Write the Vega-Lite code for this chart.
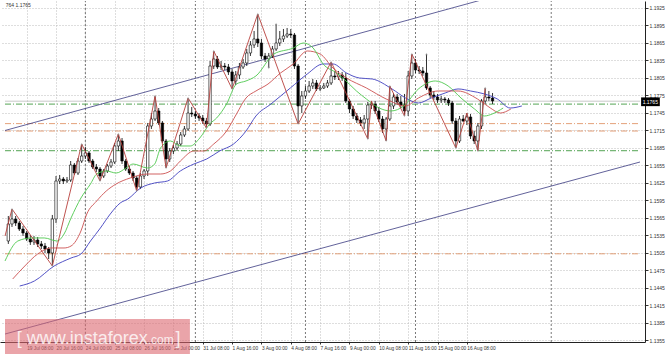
{
  "$schema": "https://vega.github.io/schema/vega-lite/v6.json",
  "width": 645,
  "height": 341,
  "padding": 0,
  "autosize": {"type": "pad"},
  "background": "white",
  "config": {
    "view": {"stroke": null},
    "font": "Liberation Sans",
    "axis": {
      "labelFontSize": 5, "labelColor": "#333333", "labelPadding": 1,
      "tickColor": "#333333", "domainColor": "#222222", "domainWidth": 1,
      "grid": true, "gridColor": "#bcbcbc", "gridDash": [1, 2], "gridWidth": 1,
      "labelFlush": false, "labelOverlap": false, "labelBound": false
    }
  },
  "datasets": {
    "candles": [
      {"i":3,"o":1.1525,"h":1.15679,"l":1.15199,"c":1.15542},
      {"i":4,"o":1.15542,"h":1.15799,"l":1.15491,"c":1.15628},
      {"i":5,"o":1.15628,"h":1.15679,"l":1.15508,"c":1.15559},
      {"i":6,"o":1.15559,"h":1.15594,"l":1.15422,"c":1.15456},
      {"i":7,"o":1.15456,"h":1.15508,"l":1.15336,"c":1.15387},
      {"i":8,"o":1.15387,"h":1.15422,"l":1.1525,"c":1.15284},
      {"i":9,"o":1.15284,"h":1.15353,"l":1.15182,"c":1.15233},
      {"i":10,"o":1.15233,"h":1.15336,"l":1.15182,"c":1.15267},
      {"i":11,"o":1.15267,"h":1.15319,"l":1.15147,"c":1.15199},
      {"i":12,"o":1.15199,"h":1.1525,"l":1.15113,"c":1.15164},
      {"i":13,"o":1.15164,"h":1.15216,"l":1.15044,"c":1.15113},
      {"i":14,"o":1.15113,"h":1.15147,"l":1.14941,"c":1.15044},
      {"i":15,"o":1.15044,"h":1.15697,"l":1.14821,"c":1.15628},
      {"i":16,"o":1.15628,"h":1.16366,"l":1.15559,"c":1.1628},
      {"i":17,"o":1.1628,"h":1.16383,"l":1.16228,"c":1.16314},
      {"i":18,"o":1.16314,"h":1.16349,"l":1.16228,"c":1.1628},
      {"i":19,"o":1.1628,"h":1.16349,"l":1.16246,"c":1.16297},
      {"i":20,"o":1.16297,"h":1.16623,"l":1.16263,"c":1.16555},
      {"i":21,"o":1.16555,"h":1.16589,"l":1.16383,"c":1.16417},
      {"i":22,"o":1.16417,"h":1.16675,"l":1.16383,"c":1.16623},
      {"i":23,"o":1.16623,"h":1.16915,"l":1.16589,"c":1.16709},
      {"i":24,"o":1.16709,"h":1.16864,"l":1.16658,"c":1.16761},
      {"i":25,"o":1.16761,"h":1.16795,"l":1.16589,"c":1.16623},
      {"i":26,"o":1.16623,"h":1.16658,"l":1.16486,"c":1.1652},
      {"i":27,"o":1.1652,"h":1.16572,"l":1.16435,"c":1.16486},
      {"i":28,"o":1.16486,"h":1.1652,"l":1.1628,"c":1.16366},
      {"i":29,"o":1.16366,"h":1.16486,"l":1.16331,"c":1.16452},
      {"i":30,"o":1.16452,"h":1.16572,"l":1.16417,"c":1.16538},
      {"i":31,"o":1.16538,"h":1.16658,"l":1.16503,"c":1.16606},
      {"i":32,"o":1.16606,"h":1.16932,"l":1.16572,"c":1.16881},
      {"i":33,"o":1.16881,"h":1.17087,"l":1.16795,"c":1.16967},
      {"i":34,"o":1.16967,"h":1.17018,"l":1.16572,"c":1.16623},
      {"i":35,"o":1.16623,"h":1.16658,"l":1.16452,"c":1.16486},
      {"i":36,"o":1.16486,"h":1.16538,"l":1.16383,"c":1.16417},
      {"i":37,"o":1.16417,"h":1.16452,"l":1.1628,"c":1.16331},
      {"i":38,"o":1.16331,"h":1.16366,"l":1.16108,"c":1.16177},
      {"i":39,"o":1.16177,"h":1.16417,"l":1.16142,"c":1.16366},
      {"i":40,"o":1.16366,"h":1.16486,"l":1.16314,"c":1.16452},
      {"i":41,"o":1.16452,"h":1.17276,"l":1.16366,"c":1.17224},
      {"i":42,"o":1.17224,"h":1.17447,"l":1.17173,"c":1.17344},
      {"i":43,"o":1.17344,"h":1.1774,"l":1.1731,"c":1.17482},
      {"i":44,"o":1.17482,"h":1.17533,"l":1.17241,"c":1.17276},
      {"i":45,"o":1.17276,"h":1.1731,"l":1.16932,"c":1.16967},
      {"i":46,"o":1.16967,"h":1.17001,"l":1.16503,"c":1.16658},
      {"i":47,"o":1.16658,"h":1.16846,"l":1.16606,"c":1.16795},
      {"i":48,"o":1.16795,"h":1.16898,"l":1.16743,"c":1.16846},
      {"i":49,"o":1.16846,"h":1.16967,"l":1.16795,"c":1.16915},
      {"i":50,"o":1.16915,"h":1.17121,"l":1.16881,"c":1.1707},
      {"i":51,"o":1.1707,"h":1.17224,"l":1.17035,"c":1.17173},
      {"i":52,"o":1.17173,"h":1.17705,"l":1.17138,"c":1.17447},
      {"i":53,"o":1.17447,"h":1.17551,"l":1.17379,"c":1.1743},
      {"i":54,"o":1.1743,"h":1.17482,"l":1.17344,"c":1.17396},
      {"i":55,"o":1.17396,"h":1.17447,"l":1.1731,"c":1.17362},
      {"i":56,"o":1.17362,"h":1.17413,"l":1.17259,"c":1.1731},
      {"i":57,"o":1.1731,"h":1.17362,"l":1.1719,"c":1.17259},
      {"i":58,"o":1.17259,"h":1.1834,"l":1.17224,"c":1.18254},
      {"i":59,"o":1.18254,"h":1.18512,"l":1.18203,"c":1.18375},
      {"i":60,"o":1.18375,"h":1.18426,"l":1.18203,"c":1.18237},
      {"i":61,"o":1.18237,"h":1.1834,"l":1.18186,"c":1.18254},
      {"i":62,"o":1.18254,"h":1.18306,"l":1.18186,"c":1.18237},
      {"i":63,"o":1.18237,"h":1.18289,"l":1.181,"c":1.18152},
      {"i":64,"o":1.18152,"h":1.18203,"l":1.1786,"c":1.17997},
      {"i":65,"o":1.17997,"h":1.18169,"l":1.17928,"c":1.181},
      {"i":66,"o":1.181,"h":1.18306,"l":1.18031,"c":1.18237},
      {"i":67,"o":1.18237,"h":1.18375,"l":1.18203,"c":1.18306},
      {"i":68,"o":1.18306,"h":1.18546,"l":1.18254,"c":1.18478},
      {"i":69,"o":1.18478,"h":1.18683,"l":1.18426,"c":1.18615},
      {"i":70,"o":1.18615,"h":1.18855,"l":1.18563,"c":1.18718},
      {"i":71,"o":1.18718,"h":1.19147,"l":1.1858,"c":1.18649},
      {"i":72,"o":1.18649,"h":1.18718,"l":1.18375,"c":1.18426},
      {"i":73,"o":1.18426,"h":1.18478,"l":1.18323,"c":1.18375},
      {"i":74,"o":1.18375,"h":1.18478,"l":1.1822,"c":1.18426},
      {"i":75,"o":1.18426,"h":1.18598,"l":1.18392,"c":1.18546},
      {"i":76,"o":1.18546,"h":1.18975,"l":1.18512,"c":1.18649},
      {"i":77,"o":1.18649,"h":1.18855,"l":1.18598,"c":1.18718},
      {"i":78,"o":1.18718,"h":1.1889,"l":1.18666,"c":1.18769},
      {"i":79,"o":1.18769,"h":1.18907,"l":1.18735,"c":1.18804},
      {"i":80,"o":1.18804,"h":1.1889,"l":1.18735,"c":1.18787},
      {"i":81,"o":1.18787,"h":1.18821,"l":1.18203,"c":1.18254},
      {"i":82,"o":1.18254,"h":1.18289,"l":1.17259,"c":1.17568},
      {"i":83,"o":1.17568,"h":1.17825,"l":1.17447,"c":1.1774},
      {"i":84,"o":1.1774,"h":1.17911,"l":1.17688,"c":1.17825},
      {"i":85,"o":1.17825,"h":1.17997,"l":1.17791,"c":1.17911},
      {"i":86,"o":1.17911,"h":1.18031,"l":1.1786,"c":1.17963},
      {"i":87,"o":1.17963,"h":1.18014,"l":1.17825,"c":1.1786},
      {"i":88,"o":1.1786,"h":1.17928,"l":1.17825,"c":1.17877},
      {"i":89,"o":1.17877,"h":1.17963,"l":1.1786,"c":1.17911},
      {"i":90,"o":1.17911,"h":1.18014,"l":1.17877,"c":1.17963},
      {"i":91,"o":1.17963,"h":1.18323,"l":1.17928,"c":1.18083},
      {"i":92,"o":1.18083,"h":1.18169,"l":1.18014,"c":1.18066},
      {"i":93,"o":1.18066,"h":1.18169,"l":1.18014,"c":1.181},
      {"i":94,"o":1.181,"h":1.18152,"l":1.17997,"c":1.18048},
      {"i":95,"o":1.18048,"h":1.18134,"l":1.17619,"c":1.17654},
      {"i":96,"o":1.17654,"h":1.17688,"l":1.17447,"c":1.17516},
      {"i":97,"o":1.17516,"h":1.17568,"l":1.17344,"c":1.17396},
      {"i":98,"o":1.17396,"h":1.17447,"l":1.17276,"c":1.17327},
      {"i":99,"o":1.17327,"h":1.17379,"l":1.17224,"c":1.17276},
      {"i":100,"o":1.17276,"h":1.17413,"l":1.17173,"c":1.17344},
      {"i":101,"o":1.17344,"h":1.17636,"l":1.17001,"c":1.17585},
      {"i":102,"o":1.17585,"h":1.17654,"l":1.17516,"c":1.17602},
      {"i":103,"o":1.17602,"h":1.17654,"l":1.1743,"c":1.17482},
      {"i":104,"o":1.17482,"h":1.17551,"l":1.17293,"c":1.17344},
      {"i":105,"o":1.17344,"h":1.17396,"l":1.17104,"c":1.17173},
      {"i":106,"o":1.17173,"h":1.17379,"l":1.16967,"c":1.17344},
      {"i":107,"o":1.17344,"h":1.17911,"l":1.1731,"c":1.17568},
      {"i":108,"o":1.17568,"h":1.17791,"l":1.17516,"c":1.17722},
      {"i":109,"o":1.17722,"h":1.17774,"l":1.17585,"c":1.17636},
      {"i":110,"o":1.17636,"h":1.1774,"l":1.17533,"c":1.17585},
      {"i":111,"o":1.17585,"h":1.17774,"l":1.17396,"c":1.17482},
      {"i":112,"o":1.17482,"h":1.18169,"l":1.17396,"c":1.18083},
      {"i":113,"o":1.18083,"h":1.1846,"l":1.18031,"c":1.18306},
      {"i":114,"o":1.18306,"h":1.18375,"l":1.18134,"c":1.18186},
      {"i":115,"o":1.18186,"h":1.18254,"l":1.18117,"c":1.18169},
      {"i":116,"o":1.18169,"h":1.18237,"l":1.18083,"c":1.18134},
      {"i":117,"o":1.18134,"h":1.1846,"l":1.17843,"c":1.17877},
      {"i":118,"o":1.17877,"h":1.17911,"l":1.17705,"c":1.17757},
      {"i":119,"o":1.17757,"h":1.17825,"l":1.17671,"c":1.17722},
      {"i":120,"o":1.17722,"h":1.17774,"l":1.17619,"c":1.17671},
      {"i":121,"o":1.17671,"h":1.1774,"l":1.17619,"c":1.17688},
      {"i":122,"o":1.17688,"h":1.17722,"l":1.17619,"c":1.17671},
      {"i":123,"o":1.17671,"h":1.17705,"l":1.17568,"c":1.17619},
      {"i":124,"o":1.17619,"h":1.17654,"l":1.17259,"c":1.1731},
      {"i":125,"o":1.1731,"h":1.17362,"l":1.16846,"c":1.16967},
      {"i":126,"o":1.16967,"h":1.17396,"l":1.16932,"c":1.17344},
      {"i":127,"o":1.17344,"h":1.17413,"l":1.17293,"c":1.1731},
      {"i":128,"o":1.1731,"h":1.17447,"l":1.17241,"c":1.17379},
      {"i":129,"o":1.17379,"h":1.1743,"l":1.17001,"c":1.17052},
      {"i":130,"o":1.17052,"h":1.17138,"l":1.16915,"c":1.16967},
      {"i":131,"o":1.16967,"h":1.17276,"l":1.16795,"c":1.17224},
      {"i":132,"o":1.17224,"h":1.17688,"l":1.17173,"c":1.17654},
      {"i":133,"o":1.17654,"h":1.17877,"l":1.17602,"c":1.17722},
      {"i":134,"o":1.17722,"h":1.17825,"l":1.17654,"c":1.17705},
      {"i":135,"o":1.17705,"h":1.17791,"l":1.17602,"c":1.17654}
    ],
    "jaw": [
      {"i":6.1,"p":1.14477},{"i":10.1,"p":1.14563},{"i":15.5,"p":1.14821},{"i":20.1,"p":1.14958},
      {"i":22.8,"p":1.15027},{"i":25.4,"p":1.1525},{"i":28.1,"p":1.15473},{"i":30.8,"p":1.15714},
      {"i":33.5,"p":1.15902},{"i":35.6,"p":1.15971},{"i":39.1,"p":1.1616},{"i":42.9,"p":1.16246},
      {"i":46.4,"p":1.1628},{"i":49.9,"p":1.16452},{"i":53.6,"p":1.16572},{"i":57.1,"p":1.16658},
      {"i":60.6,"p":1.16795},{"i":64.4,"p":1.16915},{"i":67.8,"p":1.17138},{"i":70.5,"p":1.17396},
      {"i":74.6,"p":1.17602},{"i":79.9,"p":1.17877},{"i":84.5,"p":1.18117},{"i":88.8,"p":1.18289},
      {"i":91.5,"p":1.18289},{"i":95.2,"p":1.18134},{"i":98.7,"p":1.18048},{"i":102.2,"p":1.18031},
      {"i":107.6,"p":1.1786},{"i":111.3,"p":1.17705},{"i":114.8,"p":1.17619},{"i":118.3,"p":1.17705},
      {"i":122.1,"p":1.17791},{"i":125.6,"p":1.1786},{"i":129.0,"p":1.17825},{"i":132.8,"p":1.17774},
      {"i":136.3,"p":1.17688},{"i":139.8,"p":1.17533},{"i":143.0,"p":1.17568}
    ],
    "teeth": [
      {"i":4.2,"p":1.14598},{"i":7.5,"p":1.14821},{"i":11.0,"p":1.15027},{"i":14.7,"p":1.1513},
      {"i":18.2,"p":1.1513},{"i":20.1,"p":1.15164},{"i":22.8,"p":1.15422},{"i":24.4,"p":1.15714},
      {"i":27.1,"p":1.15937},{"i":29.7,"p":1.16108},{"i":32.4,"p":1.16229},{"i":36.2,"p":1.16331},
      {"i":41.0,"p":1.164},{"i":44.5,"p":1.164},{"i":47.2,"p":1.16452},{"i":49.9,"p":1.16623},
      {"i":53.6,"p":1.16795},{"i":56.3,"p":1.16795},{"i":59.0,"p":1.16915},{"i":62.5,"p":1.17138},
      {"i":65.2,"p":1.1743},{"i":67.8,"p":1.17705},{"i":70.5,"p":1.17825},{"i":73.8,"p":1.17945},
      {"i":77.2,"p":1.18134},{"i":80.7,"p":1.18289},{"i":84.5,"p":1.18512},{"i":88.0,"p":1.1846},
      {"i":91.5,"p":1.1822},{"i":95.2,"p":1.18048},{"i":100.6,"p":1.17877},{"i":106.0,"p":1.17688},
      {"i":111.3,"p":1.17568},{"i":114.8,"p":1.17705},{"i":120.2,"p":1.17825},{"i":125.6,"p":1.17825},
      {"i":130.9,"p":1.17688},{"i":134.4,"p":1.17533},{"i":137.1,"p":1.17447},{"i":140.0,"p":1.17516}
    ],
    "lips": [
      {"i":2.1,"p":1.14907},{"i":5.6,"p":1.1525},{"i":9.3,"p":1.15302},{"i":12.8,"p":1.15302},
      {"i":16.3,"p":1.1525},{"i":18.2,"p":1.1537},{"i":20.1,"p":1.15645},{"i":22.8,"p":1.15988},
      {"i":25.4,"p":1.16229},{"i":27.1,"p":1.164},{"i":29.7,"p":1.16452},{"i":32.4,"p":1.16417},
      {"i":35.1,"p":1.16503},{"i":37.0,"p":1.16572},{"i":41.0,"p":1.16503},{"i":42.9,"p":1.16572},
      {"i":44.5,"p":1.16846},{"i":47.2,"p":1.16967},{"i":49.9,"p":1.16881},{"i":52.6,"p":1.16881},
      {"i":55.2,"p":1.17018},{"i":57.9,"p":1.17259},{"i":59.8,"p":1.17362},{"i":62.5,"p":1.17602},
      {"i":65.2,"p":1.17945},{"i":67.8,"p":1.17997},{"i":70.5,"p":1.18083},{"i":75.4,"p":1.1846},
      {"i":80.7,"p":1.18563},{"i":83.4,"p":1.18649},{"i":86.1,"p":1.18563},{"i":88.8,"p":1.18289},
      {"i":92.5,"p":1.18134},{"i":94.2,"p":1.18048},{"i":97.9,"p":1.17825},{"i":100.6,"p":1.17688},
      {"i":104.1,"p":1.17533},{"i":107.3,"p":1.17482},{"i":110.8,"p":1.17568},{"i":114.8,"p":1.1786},
      {"i":119.4,"p":1.17997},{"i":122.9,"p":1.17911},{"i":126.4,"p":1.17705},{"i":130.1,"p":1.17516},
      {"i":132.8,"p":1.17396},{"i":134.9,"p":1.1743},{"i":137.9,"p":1.17533}
    ],
    "zigzag": [
      {"i":2.1,"p":1.15336,"t":"S"},
      {"i":4,"p":1.15799,"t":"P"},{"i":15,"p":1.14821,"t":"L"},{"i":23,"p":1.16915,"t":"P"},
      {"i":28,"p":1.1628,"t":"L"},{"i":33,"p":1.17087,"t":"P"},{"i":38,"p":1.16108,"t":"L"},
      {"i":43,"p":1.1774,"t":"P"},{"i":46,"p":1.16503,"t":"L"},{"i":52,"p":1.17705,"t":"P"},
      {"i":57,"p":1.1719,"t":"L"},{"i":59,"p":1.18512,"t":"P"},{"i":64,"p":1.1786,"t":"L"},
      {"i":71,"p":1.19147,"t":"P"},{"i":82,"p":1.17259,"t":"L"},{"i":91,"p":1.18323,"t":"P"},
      {"i":101,"p":1.17001,"t":"L"},{"i":102,"p":1.17654,"t":"P"},{"i":106,"p":1.16967,"t":"L"},
      {"i":107,"p":1.17911,"t":"P"},{"i":111,"p":1.17396,"t":"L"},{"i":113,"p":1.1846,"t":"P"},
      {"i":125,"p":1.16846,"t":"L"},{"i":128,"p":1.17447,"t":"P"},{"i":131,"p":1.16795,"t":"L"},
      {"i":133,"p":1.17877,"t":"P"}
    ],
    "fractals": [
      {"i":4,"p":1.15799,"t":"P"},{"i":15,"p":1.14821,"t":"L"},{"i":23,"p":1.16915,"t":"P"},
      {"i":28,"p":1.1628,"t":"L"},{"i":33,"p":1.17087,"t":"P"},{"i":38,"p":1.16108,"t":"L"},
      {"i":43,"p":1.1774,"t":"P"},{"i":46,"p":1.16503,"t":"L"},{"i":52,"p":1.17705,"t":"P"},
      {"i":57,"p":1.1719,"t":"L"},{"i":59,"p":1.18512,"t":"P"},{"i":64,"p":1.1786,"t":"L"},
      {"i":71,"p":1.19147,"t":"P"},{"i":74,"p":1.1822,"t":"L"},{"i":76,"p":1.18975,"t":"P"},
      {"i":82,"p":1.17259,"t":"L"},{"i":91,"p":1.18323,"t":"P"},{"i":101,"p":1.17001,"t":"L"},
      {"i":106,"p":1.16967,"t":"L"},{"i":107,"p":1.17911,"t":"P"},{"i":111,"p":1.17396,"t":"L"},
      {"i":113,"p":1.1846,"t":"P"},{"i":117,"p":1.1846,"t":"P"},{"i":125,"p":1.16846,"t":"L"},
      {"i":131,"p":1.16795,"t":"L"},{"i":133,"p":1.17877,"t":"P"}
    ],
    "channel": [
      {"line":"upper","i":2.0956,"p":1.17147},{"line":"upper","i":175.2,"p":1.20134},
      {"line":"lower","i":2.0956,"p":1.13653},{"line":"lower","i":175.2,"p":1.16606}
    ],
    "levelsGreen": [{"p":1.1760},{"p":1.1680}],
    "levelsOrange": [{"p":1.17265},{"p":1.17138},{"p":1.1503}],
    "separators": [{"i":24},{"i":54},{"i":84},{"i":114},{"i":151}]
  },
  "layer": [
    {
      "data": {"name": "separators"},
      "mark": {"type": "rule", "color": "#555555", "strokeWidth": 0.8, "strokeDash": [2, 2]},
      "encoding": {
        "x": {"field": "i", "type": "quantitative", "scale": {"domain": [2.0956, 175.2], "nice": false, "zero": false},
          "axis": {"orient": "bottom", "title": null, "values": [8, 16, 24, 32, 40, 48, 56, 64, 72, 80, 88, 96, 104, 112, 120, 128], "labelExpr": "['19 Jul 08:00','20 Jul 16:00','24 Jul 00:00','25 Jul 08:00','26 Jul 16:00','28 Jul 00:00','31 Jul 08:00','1 Aug 16:00','3 Aug 00:00','4 Aug 08:00','7 Aug 16:00','9 Aug 00:00','10 Aug 08:00','11 Aug 16:00','15 Aug 00:00','16 Aug 08:00'][(datum.value - 8) / 8]", "labelAlign": "left", "labelDx": 1, "labelFontSize": 4.8, "tickSize": 2}},
        "y": {"datum": 1.13516, "type": "quantitative", "scale": {"domain": [1.13516, 1.1937], "nice": false, "zero": false},
          "axis": {"orient": "right", "title": null, "format": ".4f", "values": [1.1355, 1.1385, 1.1415, 1.1445, 1.1475, 1.1505, 1.1535, 1.1565, 1.1595, 1.1625, 1.1655, 1.1685, 1.1715, 1.1745, 1.1775, 1.1805, 1.1835, 1.1865, 1.1895, 1.1925], "tickSize": 3}},
        "y2": {"datum": 1.1937}
      }
    },
    {
      "data": {"name": "levelsGreen"},
      "mark": {"type": "rule", "color": "#3f9a3f", "strokeWidth": 0.9, "strokeDash": [6, 2, 1, 2]},
      "encoding": {
        "x": {"datum": 2.0956, "type": "quantitative", "scale": {"domain": [2.0956, 175.2], "nice": false, "zero": false},
          "axis": {"orient": "bottom", "title": null, "values": [8, 16, 24, 32, 40, 48, 56, 64, 72, 80, 88, 96, 104, 112, 120, 128], "labelExpr": "['19 Jul 08:00','20 Jul 16:00','24 Jul 00:00','25 Jul 08:00','26 Jul 16:00','28 Jul 00:00','31 Jul 08:00','1 Aug 16:00','3 Aug 00:00','4 Aug 08:00','7 Aug 16:00','9 Aug 00:00','10 Aug 08:00','11 Aug 16:00','15 Aug 00:00','16 Aug 08:00'][(datum.value - 8) / 8]", "labelAlign": "left", "labelDx": 1, "labelFontSize": 4.8, "tickSize": 2}},
        "x2": {"datum": 175.2},
        "y": {"field": "p", "type": "quantitative", "scale": {"domain": [1.13516, 1.1937], "nice": false, "zero": false},
          "axis": {"orient": "right", "title": null, "format": ".4f", "values": [1.1355, 1.1385, 1.1415, 1.1445, 1.1475, 1.1505, 1.1535, 1.1565, 1.1595, 1.1625, 1.1655, 1.1685, 1.1715, 1.1745, 1.1775, 1.1805, 1.1835, 1.1865, 1.1895, 1.1925], "tickSize": 3}}
      }
    },
    {
      "data": {"name": "levelsOrange"},
      "mark": {"type": "rule", "color": "#e0956a", "strokeWidth": 0.9, "strokeDash": [6, 2, 1, 2]},
      "encoding": {
        "x": {"datum": 2.0956, "type": "quantitative", "scale": {"domain": [2.0956, 175.2], "nice": false, "zero": false},
          "axis": {"orient": "bottom", "title": null, "values": [8, 16, 24, 32, 40, 48, 56, 64, 72, 80, 88, 96, 104, 112, 120, 128], "labelExpr": "['19 Jul 08:00','20 Jul 16:00','24 Jul 00:00','25 Jul 08:00','26 Jul 16:00','28 Jul 00:00','31 Jul 08:00','1 Aug 16:00','3 Aug 00:00','4 Aug 08:00','7 Aug 16:00','9 Aug 00:00','10 Aug 08:00','11 Aug 16:00','15 Aug 00:00','16 Aug 08:00'][(datum.value - 8) / 8]", "labelAlign": "left", "labelDx": 1, "labelFontSize": 4.8, "tickSize": 2}},
        "x2": {"datum": 175.2},
        "y": {"field": "p", "type": "quantitative", "scale": {"domain": [1.13516, 1.1937], "nice": false, "zero": false},
          "axis": {"orient": "right", "title": null, "format": ".4f", "values": [1.1355, 1.1385, 1.1415, 1.1445, 1.1475, 1.1505, 1.1535, 1.1565, 1.1595, 1.1625, 1.1655, 1.1685, 1.1715, 1.1745, 1.1775, 1.1805, 1.1835, 1.1865, 1.1895, 1.1925], "tickSize": 3}}
      }
    },
    {
      "data": {"values": [{"p": 1.1765}]},
      "mark": {"type": "rule", "color": "#bdbdbd", "strokeWidth": 0.8},
      "encoding": {
        "x": {"datum": 2.0956, "type": "quantitative", "scale": {"domain": [2.0956, 175.2], "nice": false, "zero": false},
          "axis": {"orient": "bottom", "title": null, "values": [8, 16, 24, 32, 40, 48, 56, 64, 72, 80, 88, 96, 104, 112, 120, 128], "labelExpr": "['19 Jul 08:00','20 Jul 16:00','24 Jul 00:00','25 Jul 08:00','26 Jul 16:00','28 Jul 00:00','31 Jul 08:00','1 Aug 16:00','3 Aug 00:00','4 Aug 08:00','7 Aug 16:00','9 Aug 00:00','10 Aug 08:00','11 Aug 16:00','15 Aug 00:00','16 Aug 08:00'][(datum.value - 8) / 8]", "labelAlign": "left", "labelDx": 1, "labelFontSize": 4.8, "tickSize": 2}},
        "x2": {"datum": 175.2},
        "y": {"field": "p", "type": "quantitative", "scale": {"domain": [1.13516, 1.1937], "nice": false, "zero": false},
          "axis": {"orient": "right", "title": null, "format": ".4f", "values": [1.1355, 1.1385, 1.1415, 1.1445, 1.1475, 1.1505, 1.1535, 1.1565, 1.1595, 1.1625, 1.1655, 1.1685, 1.1715, 1.1745, 1.1775, 1.1805, 1.1835, 1.1865, 1.1895, 1.1925], "tickSize": 3}}
      }
    },
    {
      "data": {"name": "channel"},
      "mark": {"type": "line", "color": "#3a3a80", "strokeWidth": 0.8, "clip": true},
      "encoding": {
        "x": {"field": "i", "type": "quantitative", "scale": {"domain": [2.0956, 175.2], "nice": false, "zero": false},
          "axis": {"orient": "bottom", "title": null, "values": [8, 16, 24, 32, 40, 48, 56, 64, 72, 80, 88, 96, 104, 112, 120, 128], "labelExpr": "['19 Jul 08:00','20 Jul 16:00','24 Jul 00:00','25 Jul 08:00','26 Jul 16:00','28 Jul 00:00','31 Jul 08:00','1 Aug 16:00','3 Aug 00:00','4 Aug 08:00','7 Aug 16:00','9 Aug 00:00','10 Aug 08:00','11 Aug 16:00','15 Aug 00:00','16 Aug 08:00'][(datum.value - 8) / 8]", "labelAlign": "left", "labelDx": 1, "labelFontSize": 4.8, "tickSize": 2}},
        "y": {"field": "p", "type": "quantitative", "scale": {"domain": [1.13516, 1.1937], "nice": false, "zero": false},
          "axis": {"orient": "right", "title": null, "format": ".4f", "values": [1.1355, 1.1385, 1.1415, 1.1445, 1.1475, 1.1505, 1.1535, 1.1565, 1.1595, 1.1625, 1.1655, 1.1685, 1.1715, 1.1745, 1.1775, 1.1805, 1.1835, 1.1865, 1.1895, 1.1925], "tickSize": 3}},
        "detail": {"field": "line"}
      }
    },
    {
      "data": {"name": "candles"},
      "mark": {"type": "rule", "color": "#000000", "strokeWidth": 0.8},
      "encoding": {
        "x": {"field": "i", "type": "quantitative", "scale": {"domain": [2.0956, 175.2], "nice": false, "zero": false},
          "axis": {"orient": "bottom", "title": null, "values": [8, 16, 24, 32, 40, 48, 56, 64, 72, 80, 88, 96, 104, 112, 120, 128], "labelExpr": "['19 Jul 08:00','20 Jul 16:00','24 Jul 00:00','25 Jul 08:00','26 Jul 16:00','28 Jul 00:00','31 Jul 08:00','1 Aug 16:00','3 Aug 00:00','4 Aug 08:00','7 Aug 16:00','9 Aug 00:00','10 Aug 08:00','11 Aug 16:00','15 Aug 00:00','16 Aug 08:00'][(datum.value - 8) / 8]", "labelAlign": "left", "labelDx": 1, "labelFontSize": 4.8, "tickSize": 2}},
        "y": {"field": "l", "type": "quantitative", "scale": {"domain": [1.13516, 1.1937], "nice": false, "zero": false},
          "axis": {"orient": "right", "title": null, "format": ".4f", "values": [1.1355, 1.1385, 1.1415, 1.1445, 1.1475, 1.1505, 1.1535, 1.1565, 1.1595, 1.1625, 1.1655, 1.1685, 1.1715, 1.1745, 1.1775, 1.1805, 1.1835, 1.1865, 1.1895, 1.1925], "tickSize": 3}},
        "y2": {"field": "h"}
      }
    },
    {
      "data": {"name": "candles"},
      "mark": {"type": "bar", "width": 2.4, "stroke": "#000000", "strokeWidth": 0.6},
      "encoding": {
        "x": {"field": "i", "type": "quantitative", "scale": {"domain": [2.0956, 175.2], "nice": false, "zero": false},
          "axis": {"orient": "bottom", "title": null, "values": [8, 16, 24, 32, 40, 48, 56, 64, 72, 80, 88, 96, 104, 112, 120, 128], "labelExpr": "['19 Jul 08:00','20 Jul 16:00','24 Jul 00:00','25 Jul 08:00','26 Jul 16:00','28 Jul 00:00','31 Jul 08:00','1 Aug 16:00','3 Aug 00:00','4 Aug 08:00','7 Aug 16:00','9 Aug 00:00','10 Aug 08:00','11 Aug 16:00','15 Aug 00:00','16 Aug 08:00'][(datum.value - 8) / 8]", "labelAlign": "left", "labelDx": 1, "labelFontSize": 4.8, "tickSize": 2}},
        "y": {"field": "o", "type": "quantitative", "scale": {"domain": [1.13516, 1.1937], "nice": false, "zero": false},
          "axis": {"orient": "right", "title": null, "format": ".4f", "values": [1.1355, 1.1385, 1.1415, 1.1445, 1.1475, 1.1505, 1.1535, 1.1565, 1.1595, 1.1625, 1.1655, 1.1685, 1.1715, 1.1745, 1.1775, 1.1805, 1.1835, 1.1865, 1.1895, 1.1925], "tickSize": 3}},
        "y2": {"field": "c"},
        "fill": {"condition": {"test": "datum.c >= datum.o", "value": "#ffffff"}, "value": "#000000"}
      }
    },
    {
      "data": {"name": "jaw"},
      "mark": {"type": "line", "color": "#4040c0", "strokeWidth": 0.9, "interpolate": "monotone"},
      "encoding": {
        "x": {"field": "i", "type": "quantitative", "scale": {"domain": [2.0956, 175.2], "nice": false, "zero": false},
          "axis": {"orient": "bottom", "title": null, "values": [8, 16, 24, 32, 40, 48, 56, 64, 72, 80, 88, 96, 104, 112, 120, 128], "labelExpr": "['19 Jul 08:00','20 Jul 16:00','24 Jul 00:00','25 Jul 08:00','26 Jul 16:00','28 Jul 00:00','31 Jul 08:00','1 Aug 16:00','3 Aug 00:00','4 Aug 08:00','7 Aug 16:00','9 Aug 00:00','10 Aug 08:00','11 Aug 16:00','15 Aug 00:00','16 Aug 08:00'][(datum.value - 8) / 8]", "labelAlign": "left", "labelDx": 1, "labelFontSize": 4.8, "tickSize": 2}},
        "y": {"field": "p", "type": "quantitative", "scale": {"domain": [1.13516, 1.1937], "nice": false, "zero": false},
          "axis": {"orient": "right", "title": null, "format": ".4f", "values": [1.1355, 1.1385, 1.1415, 1.1445, 1.1475, 1.1505, 1.1535, 1.1565, 1.1595, 1.1625, 1.1655, 1.1685, 1.1715, 1.1745, 1.1775, 1.1805, 1.1835, 1.1865, 1.1895, 1.1925], "tickSize": 3}}
      }
    },
    {
      "data": {"name": "teeth"},
      "mark": {"type": "line", "color": "#cc5050", "strokeWidth": 0.9, "interpolate": "monotone"},
      "encoding": {
        "x": {"field": "i", "type": "quantitative", "scale": {"domain": [2.0956, 175.2], "nice": false, "zero": false},
          "axis": {"orient": "bottom", "title": null, "values": [8, 16, 24, 32, 40, 48, 56, 64, 72, 80, 88, 96, 104, 112, 120, 128], "labelExpr": "['19 Jul 08:00','20 Jul 16:00','24 Jul 00:00','25 Jul 08:00','26 Jul 16:00','28 Jul 00:00','31 Jul 08:00','1 Aug 16:00','3 Aug 00:00','4 Aug 08:00','7 Aug 16:00','9 Aug 00:00','10 Aug 08:00','11 Aug 16:00','15 Aug 00:00','16 Aug 08:00'][(datum.value - 8) / 8]", "labelAlign": "left", "labelDx": 1, "labelFontSize": 4.8, "tickSize": 2}},
        "y": {"field": "p", "type": "quantitative", "scale": {"domain": [1.13516, 1.1937], "nice": false, "zero": false},
          "axis": {"orient": "right", "title": null, "format": ".4f", "values": [1.1355, 1.1385, 1.1415, 1.1445, 1.1475, 1.1505, 1.1535, 1.1565, 1.1595, 1.1625, 1.1655, 1.1685, 1.1715, 1.1745, 1.1775, 1.1805, 1.1835, 1.1865, 1.1895, 1.1925], "tickSize": 3}}
      }
    },
    {
      "data": {"name": "lips"},
      "mark": {"type": "line", "color": "#4ec84e", "strokeWidth": 0.9, "interpolate": "monotone"},
      "encoding": {
        "x": {"field": "i", "type": "quantitative", "scale": {"domain": [2.0956, 175.2], "nice": false, "zero": false},
          "axis": {"orient": "bottom", "title": null, "values": [8, 16, 24, 32, 40, 48, 56, 64, 72, 80, 88, 96, 104, 112, 120, 128], "labelExpr": "['19 Jul 08:00','20 Jul 16:00','24 Jul 00:00','25 Jul 08:00','26 Jul 16:00','28 Jul 00:00','31 Jul 08:00','1 Aug 16:00','3 Aug 00:00','4 Aug 08:00','7 Aug 16:00','9 Aug 00:00','10 Aug 08:00','11 Aug 16:00','15 Aug 00:00','16 Aug 08:00'][(datum.value - 8) / 8]", "labelAlign": "left", "labelDx": 1, "labelFontSize": 4.8, "tickSize": 2}},
        "y": {"field": "p", "type": "quantitative", "scale": {"domain": [1.13516, 1.1937], "nice": false, "zero": false},
          "axis": {"orient": "right", "title": null, "format": ".4f", "values": [1.1355, 1.1385, 1.1415, 1.1445, 1.1475, 1.1505, 1.1535, 1.1565, 1.1595, 1.1625, 1.1655, 1.1685, 1.1715, 1.1745, 1.1775, 1.1805, 1.1835, 1.1865, 1.1895, 1.1925], "tickSize": 3}}
      }
    },
    {
      "data": {"name": "zigzag"},
      "mark": {"type": "line", "color": "#b8403c", "strokeWidth": 0.9},
      "encoding": {
        "x": {"field": "i", "type": "quantitative", "scale": {"domain": [2.0956, 175.2], "nice": false, "zero": false},
          "axis": {"orient": "bottom", "title": null, "values": [8, 16, 24, 32, 40, 48, 56, 64, 72, 80, 88, 96, 104, 112, 120, 128], "labelExpr": "['19 Jul 08:00','20 Jul 16:00','24 Jul 00:00','25 Jul 08:00','26 Jul 16:00','28 Jul 00:00','31 Jul 08:00','1 Aug 16:00','3 Aug 00:00','4 Aug 08:00','7 Aug 16:00','9 Aug 00:00','10 Aug 08:00','11 Aug 16:00','15 Aug 00:00','16 Aug 08:00'][(datum.value - 8) / 8]", "labelAlign": "left", "labelDx": 1, "labelFontSize": 4.8, "tickSize": 2}},
        "y": {"field": "p", "type": "quantitative", "scale": {"domain": [1.13516, 1.1937], "nice": false, "zero": false},
          "axis": {"orient": "right", "title": null, "format": ".4f", "values": [1.1355, 1.1385, 1.1415, 1.1445, 1.1475, 1.1505, 1.1535, 1.1565, 1.1595, 1.1625, 1.1655, 1.1685, 1.1715, 1.1745, 1.1775, 1.1805, 1.1835, 1.1865, 1.1895, 1.1925], "tickSize": 3}}
      }
    },
    {
      "data": {"name": "fractals"},
      "mark": {"type": "point", "size": 7, "filled": true, "color": "#9a9a9a", "clip": true},
      "encoding": {
        "x": {"field": "i", "type": "quantitative", "scale": {"domain": [2.0956, 175.2], "nice": false, "zero": false},
          "axis": {"orient": "bottom", "title": null, "values": [8, 16, 24, 32, 40, 48, 56, 64, 72, 80, 88, 96, 104, 112, 120, 128], "labelExpr": "['19 Jul 08:00','20 Jul 16:00','24 Jul 00:00','25 Jul 08:00','26 Jul 16:00','28 Jul 00:00','31 Jul 08:00','1 Aug 16:00','3 Aug 00:00','4 Aug 08:00','7 Aug 16:00','9 Aug 00:00','10 Aug 08:00','11 Aug 16:00','15 Aug 00:00','16 Aug 08:00'][(datum.value - 8) / 8]", "labelAlign": "left", "labelDx": 1, "labelFontSize": 4.8, "tickSize": 2}},
        "y": {"field": "p", "type": "quantitative", "scale": {"domain": [1.13516, 1.1937], "nice": false, "zero": false},
          "axis": {"orient": "right", "title": null, "format": ".4f", "values": [1.1355, 1.1385, 1.1415, 1.1445, 1.1475, 1.1505, 1.1535, 1.1565, 1.1595, 1.1625, 1.1655, 1.1685, 1.1715, 1.1745, 1.1775, 1.1805, 1.1835, 1.1865, 1.1895, 1.1925], "tickSize": 3}},
        "shape": {"field": "t", "type": "nominal", "scale": {"domain": ["P", "L"], "range": ["triangle-up", "triangle-down"]}, "legend": null},
        "yOffset": {"field": "t", "type": "nominal", "scale": {"type": "point", "domain": ["P", "L"], "range": [-5, 5]}}
      }
    },
    {
      "data": {"values": [{}]},
      "mark": {"type": "rect", "fill": "#dc6870", "opacity": 0.6, "clip": false},
      "encoding": {
        "x": {"datum": 2.0956, "type": "quantitative", "scale": {"domain": [2.0956, 175.2], "nice": false, "zero": false},
          "axis": {"orient": "bottom", "title": null, "values": [8, 16, 24, 32, 40, 48, 56, 64, 72, 80, 88, 96, 104, 112, 120, 128], "labelExpr": "['19 Jul 08:00','20 Jul 16:00','24 Jul 00:00','25 Jul 08:00','26 Jul 16:00','28 Jul 00:00','31 Jul 08:00','1 Aug 16:00','3 Aug 00:00','4 Aug 08:00','7 Aug 16:00','9 Aug 00:00','10 Aug 08:00','11 Aug 16:00','15 Aug 00:00','16 Aug 08:00'][(datum.value - 8) / 8]", "labelAlign": "left", "labelDx": 1, "labelFontSize": 4.8, "tickSize": 2}},
        "x2": {"datum": 52.5},
        "y": {"datum": 1.13911, "type": "quantitative", "scale": {"domain": [1.13516, 1.1937], "nice": false, "zero": false},
          "axis": {"orient": "right", "title": null, "format": ".4f", "values": [1.1355, 1.1385, 1.1415, 1.1445, 1.1475, 1.1505, 1.1535, 1.1565, 1.1595, 1.1625, 1.1655, 1.1685, 1.1715, 1.1745, 1.1775, 1.1805, 1.1835, 1.1865, 1.1895, 1.1925], "tickSize": 3}},
        "y2": {"datum": 1.13293}
      }
    },
    {
      "data": {"values": [{}]},
      "mark": {"type": "text", "text": "[ www.instaforex", "fontSize": 18, "font": "Liberation Sans", "color": "#ffffff", "opacity": 0.8, "align": "right", "baseline": "alphabetic", "clip": false},
      "encoding": {
        "x": {"datum": 41.0, "type": "quantitative", "scale": {"domain": [2.0956, 175.2], "nice": false, "zero": false},
          "axis": {"orient": "bottom", "title": null, "values": [8, 16, 24, 32, 40, 48, 56, 64, 72, 80, 88, 96, 104, 112, 120, 128], "labelExpr": "['19 Jul 08:00','20 Jul 16:00','24 Jul 00:00','25 Jul 08:00','26 Jul 16:00','28 Jul 00:00','31 Jul 08:00','1 Aug 16:00','3 Aug 00:00','4 Aug 08:00','7 Aug 16:00','9 Aug 00:00','10 Aug 08:00','11 Aug 16:00','15 Aug 00:00','16 Aug 08:00'][(datum.value - 8) / 8]", "labelAlign": "left", "labelDx": 1, "labelFontSize": 4.8, "tickSize": 2}},
        "y": {"datum": 1.13482, "type": "quantitative", "scale": {"domain": [1.13516, 1.1937], "nice": false, "zero": false},
          "axis": {"orient": "right", "title": null, "format": ".4f", "values": [1.1355, 1.1385, 1.1415, 1.1445, 1.1475, 1.1505, 1.1535, 1.1565, 1.1595, 1.1625, 1.1655, 1.1685, 1.1715, 1.1745, 1.1775, 1.1805, 1.1835, 1.1865, 1.1895, 1.1925], "tickSize": 3}}
      }
    },
    {
      "data": {"values": [{}]},
      "mark": {"type": "text", "text": ".com", "fontSize": 12, "font": "Liberation Sans", "color": "#ffffff", "opacity": 0.8, "align": "left", "baseline": "alphabetic", "clip": false},
      "encoding": {
        "x": {"datum": 41.0, "type": "quantitative", "scale": {"domain": [2.0956, 175.2], "nice": false, "zero": false},
          "axis": {"orient": "bottom", "title": null, "values": [8, 16, 24, 32, 40, 48, 56, 64, 72, 80, 88, 96, 104, 112, 120, 128], "labelExpr": "['19 Jul 08:00','20 Jul 16:00','24 Jul 00:00','25 Jul 08:00','26 Jul 16:00','28 Jul 00:00','31 Jul 08:00','1 Aug 16:00','3 Aug 00:00','4 Aug 08:00','7 Aug 16:00','9 Aug 00:00','10 Aug 08:00','11 Aug 16:00','15 Aug 00:00','16 Aug 08:00'][(datum.value - 8) / 8]", "labelAlign": "left", "labelDx": 1, "labelFontSize": 4.8, "tickSize": 2}},
        "y": {"datum": 1.13482, "type": "quantitative", "scale": {"domain": [1.13516, 1.1937], "nice": false, "zero": false},
          "axis": {"orient": "right", "title": null, "format": ".4f", "values": [1.1355, 1.1385, 1.1415, 1.1445, 1.1475, 1.1505, 1.1535, 1.1565, 1.1595, 1.1625, 1.1655, 1.1685, 1.1715, 1.1745, 1.1775, 1.1805, 1.1835, 1.1865, 1.1895, 1.1925], "tickSize": 3}}
      }
    },
    {
      "data": {"values": [{}]},
      "mark": {"type": "text", "text": "]", "fontSize": 18, "font": "Liberation Sans", "color": "#ffffff", "opacity": 0.8, "align": "left", "baseline": "alphabetic", "clip": false},
      "encoding": {
        "x": {"datum": 48.6, "type": "quantitative", "scale": {"domain": [2.0956, 175.2], "nice": false, "zero": false},
          "axis": {"orient": "bottom", "title": null, "values": [8, 16, 24, 32, 40, 48, 56, 64, 72, 80, 88, 96, 104, 112, 120, 128], "labelExpr": "['19 Jul 08:00','20 Jul 16:00','24 Jul 00:00','25 Jul 08:00','26 Jul 16:00','28 Jul 00:00','31 Jul 08:00','1 Aug 16:00','3 Aug 00:00','4 Aug 08:00','7 Aug 16:00','9 Aug 00:00','10 Aug 08:00','11 Aug 16:00','15 Aug 00:00','16 Aug 08:00'][(datum.value - 8) / 8]", "labelAlign": "left", "labelDx": 1, "labelFontSize": 4.8, "tickSize": 2}},
        "y": {"datum": 1.13482, "type": "quantitative", "scale": {"domain": [1.13516, 1.1937], "nice": false, "zero": false},
          "axis": {"orient": "right", "title": null, "format": ".4f", "values": [1.1355, 1.1385, 1.1415, 1.1445, 1.1475, 1.1505, 1.1535, 1.1565, 1.1595, 1.1625, 1.1655, 1.1685, 1.1715, 1.1745, 1.1775, 1.1805, 1.1835, 1.1865, 1.1895, 1.1925], "tickSize": 3}}
      }
    },
    {
      "data": {"values": [{}]},
      "mark": {"type": "rect", "fill": "#000000", "clip": false},
      "encoding": {
        "x": {"datum": 175.5, "type": "quantitative", "scale": {"domain": [2.0956, 175.2], "nice": false, "zero": false},
          "axis": {"orient": "bottom", "title": null, "values": [8, 16, 24, 32, 40, 48, 56, 64, 72, 80, 88, 96, 104, 112, 120, 128], "labelExpr": "['19 Jul 08:00','20 Jul 16:00','24 Jul 00:00','25 Jul 08:00','26 Jul 16:00','28 Jul 00:00','31 Jul 08:00','1 Aug 16:00','3 Aug 00:00','4 Aug 08:00','7 Aug 16:00','9 Aug 00:00','10 Aug 08:00','11 Aug 16:00','15 Aug 00:00','16 Aug 08:00'][(datum.value - 8) / 8]", "labelAlign": "left", "labelDx": 1, "labelFontSize": 4.8, "tickSize": 2}},
        "x2": {"datum": 180.6},
        "y": {"datum": 1.17715, "type": "quantitative", "scale": {"domain": [1.13516, 1.1937], "nice": false, "zero": false},
          "axis": {"orient": "right", "title": null, "format": ".4f", "values": [1.1355, 1.1385, 1.1415, 1.1445, 1.1475, 1.1505, 1.1535, 1.1565, 1.1595, 1.1625, 1.1655, 1.1685, 1.1715, 1.1745, 1.1775, 1.1805, 1.1835, 1.1865, 1.1895, 1.1925], "tickSize": 3}},
        "y2": {"datum": 1.17565}
      }
    },
    {
      "data": {"values": [{}]},
      "mark": {"type": "text", "text": "1.1765", "fontSize": 5, "color": "#ffffff", "align": "center", "baseline": "middle", "clip": false},
      "encoding": {
        "x": {"datum": 178.0, "type": "quantitative", "scale": {"domain": [2.0956, 175.2], "nice": false, "zero": false},
          "axis": {"orient": "bottom", "title": null, "values": [8, 16, 24, 32, 40, 48, 56, 64, 72, 80, 88, 96, 104, 112, 120, 128], "labelExpr": "['19 Jul 08:00','20 Jul 16:00','24 Jul 00:00','25 Jul 08:00','26 Jul 16:00','28 Jul 00:00','31 Jul 08:00','1 Aug 16:00','3 Aug 00:00','4 Aug 08:00','7 Aug 16:00','9 Aug 00:00','10 Aug 08:00','11 Aug 16:00','15 Aug 00:00','16 Aug 08:00'][(datum.value - 8) / 8]", "labelAlign": "left", "labelDx": 1, "labelFontSize": 4.8, "tickSize": 2}},
        "y": {"datum": 1.1764, "type": "quantitative", "scale": {"domain": [1.13516, 1.1937], "nice": false, "zero": false},
          "axis": {"orient": "right", "title": null, "format": ".4f", "values": [1.1355, 1.1385, 1.1415, 1.1445, 1.1475, 1.1505, 1.1535, 1.1565, 1.1595, 1.1625, 1.1655, 1.1685, 1.1715, 1.1745, 1.1775, 1.1805, 1.1835, 1.1865, 1.1895, 1.1925], "tickSize": 3}}
      }
    },
    {
      "data": {"values": [{}]},
      "mark": {"type": "text", "text": "764 1.1765", "fontSize": 5, "color": "#333333", "align": "left", "baseline": "middle", "clip": false},
      "encoding": {
        "x": {"datum": 2.3, "type": "quantitative", "scale": {"domain": [2.0956, 175.2], "nice": false, "zero": false},
          "axis": {"orient": "bottom", "title": null, "values": [8, 16, 24, 32, 40, 48, 56, 64, 72, 80, 88, 96, 104, 112, 120, 128], "labelExpr": "['19 Jul 08:00','20 Jul 16:00','24 Jul 00:00','25 Jul 08:00','26 Jul 16:00','28 Jul 00:00','31 Jul 08:00','1 Aug 16:00','3 Aug 00:00','4 Aug 08:00','7 Aug 16:00','9 Aug 00:00','10 Aug 08:00','11 Aug 16:00','15 Aug 00:00','16 Aug 08:00'][(datum.value - 8) / 8]", "labelAlign": "left", "labelDx": 1, "labelFontSize": 4.8, "tickSize": 2}},
        "y": {"datum": 1.1930, "type": "quantitative", "scale": {"domain": [1.13516, 1.1937], "nice": false, "zero": false},
          "axis": {"orient": "right", "title": null, "format": ".4f", "values": [1.1355, 1.1385, 1.1415, 1.1445, 1.1475, 1.1505, 1.1535, 1.1565, 1.1595, 1.1625, 1.1655, 1.1685, 1.1715, 1.1745, 1.1775, 1.1805, 1.1835, 1.1865, 1.1895, 1.1925], "tickSize": 3}}
      }
    }
  ]
}
